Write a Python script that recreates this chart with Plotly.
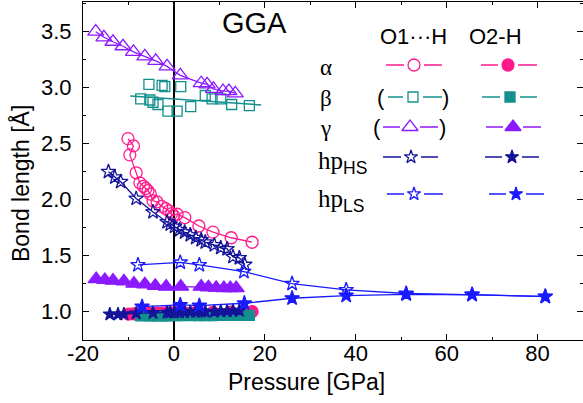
import plotly.graph_objects as go

# ---------------- data ----------------
# alpha (O1...H open, O2-H filled)
alpha_p = [-10.1, -8.9, -9.7, -8.3, -7.5, -6.7, -6.2, -5.7, -5.2, -4.6, -3.7, -2.7, -1.8, -1.1, -0.5, -0.1, 0.7, 2.4, 5.5, 8.6, 12.6, 17.2]
alpha_o1 = [2.545, 2.48, 2.40, 2.24, 2.15, 2.12, 2.10, 2.08, 2.05, 1.99, 1.98, 1.94, 1.92, 1.90, 1.875, 1.86, 1.87, 1.84, 1.765, 1.71, 1.66, 1.62]
alpha_f_p = [-10.0, -8.9, -8.3, -7.5, -6.7, -5.7, -4.6, -3.7, -2.7, -1.8, -1.1, -0.1, 0.7, 2.4, 4.5, 5.5, 8.6, 12.6, 17.2]
alpha_o2 = [0.978, 0.98, 0.98, 0.982, 0.983, 0.984, 0.985, 0.986, 0.987, 0.988, 0.988, 0.989, 0.99, 0.99, 0.99, 0.992, 0.994, 0.996, 1.0]

# beta
beta_p = [-7.3, -5.5, -5.3, -4.6, -3.5, -2.6, -2.0, -1.3, 0.7, 1.5, 3.7, 6.9, 8.4, 10.3, 12.7, 16.6]
beta_o1 = [2.90, 3.03, 2.89, 2.87, 2.85, 3.02, 3.01, 2.79, 2.79, 3.01, 2.83, 2.93, 2.90, 2.90, 2.85, 2.84]
beta_fit_p = [-9.6, 19.2]
beta_fit_v = [2.926, 2.846]
beta_f_p = [-7.3, -5.5, -4.6, -3.5, -2.0, -1.3, 0.7, 1.5, 3.7, 5.5, 6.9, 8.4, 10.3, 12.7, 14.5, 16.6]
beta_o2 = [0.962, 0.962, 0.962, 0.963, 0.963, 0.963, 0.964, 0.964, 0.964, 0.965, 0.965, 0.965, 0.966, 0.966, 0.966, 0.966]

# gamma
gamma_p = [-17.2, -15.4, -13.4, -11.2, -8.9, -6.4, -4.0, -1.5, 1.4, 6.0, 7.3, 8.7, 10.8, 12.1, 13.5]
gamma_o1 = [3.50, 3.45, 3.41, 3.37, 3.32, 3.28, 3.24, 3.19, 3.11, 3.04, 3.03, 2.99, 2.97, 2.97, 2.95]
gamma_f_p = [-17.1, -15.2, -13.4, -11.0, -8.8, -6.4, -4.1, -1.7, 1.5, 6.0, 7.6, 9.3, 11.0, 12.4, 13.7]
gamma_o2 = [1.29, 1.283, 1.277, 1.27, 1.25, 1.245, 1.23, 1.223, 1.223, 1.223, 1.218, 1.214, 1.21, 1.21, 1.21]

# hp_HS
hs_p = [-14.4, -13.0, -11.7, -8.3, -4.6, -1.5, -0.8, 0.15, 1.25, 2.35, 3.6, 4.8, 6.0, 6.9, 8.9, 10.3, 11.7, 13.0, 14.4, 15.6]
hs_o1 = [2.25, 2.20, 2.16, 2.01, 1.89, 1.80, 1.78, 1.76, 1.73, 1.71, 1.685, 1.66, 1.64, 1.62, 1.595, 1.57, 1.56, 1.49, 1.48, 1.42]
hs_f_p = [-14.1, -12.3, -11.0, -8.3, -4.6, -1.5, -0.8, 0.15, 1.25, 2.35, 3.6, 4.8, 6.0, 6.9, 8.9, 10.3, 11.7, 13.0, 14.4]
hs_o2 = [0.977, 0.977, 0.978, 0.985, 0.99, 0.993, 0.994, 0.995, 0.996, 0.997, 0.998, 1.0, 1.0, 1.0, 1.002, 1.004, 1.005, 1.008, 1.01]

# hp_LS
ls_p = [-7.9, 1.4, 5.6, 15.4, 26.0, 37.9, 51.1, 65.6, 81.7]
ls_o1 = [1.417, 1.44, 1.417, 1.357, 1.25, 1.194, 1.162, 1.152, 1.136]
ls_f_p = [-7.0, 1.4, 5.6, 15.5, 26.0, 37.9, 51.1, 65.6, 81.7]
ls_o2 = [1.045, 1.06, 1.054, 1.075, 1.12, 1.143, 1.155, 1.152, 1.134]

x_ticks = [-20, 0, 20, 40, 60, 80]
y_ticks = [1.0, 1.5, 2.0, 2.5, 3.0, 3.5]

# ---------------- styles ----------------
C_A = "#ff1a8c"
C_B = "#13908c"
C_G = "#8c1aff"
C_HS = "#14149a"
C_LS = "#1a1aff"
SANS = "Liberation Sans, Arial, sans-serif"
SERIF = "Liberation Serif, Times New Roman, serif"

fig = go.Figure()


def add(x, y, color, symbol, size, mode="lines+markers", lw=1.3, dash="solid"):
    fig.add_trace(go.Scatter(
        x=x, y=y, mode=mode, showlegend=False,
        line=dict(color=color, width=lw, dash=dash),
        marker=dict(symbol=symbol, size=size, color=color,
                    line=dict(color=color, width=1.3))))


# open (O1...H)
add(alpha_p, alpha_o1, C_A, "circle-open", 12)
add(beta_p, beta_o1, C_B, "square-open", 10, mode="markers")
add(beta_fit_p, beta_fit_v, C_B, "square-open", 10, mode="lines", lw=1.5)
add(gamma_p, gamma_o1, C_G, "triangle-up-open", 14)
add(hs_p, hs_o1, C_HS, "star-open", 11)
add(ls_p, ls_o1, C_LS, "star-open", 11)
# filled (O2-H)
add(alpha_f_p, alpha_o2, C_A, "circle", 12)
add(beta_f_p, beta_o2, C_B, "square", 10)
add(gamma_f_p, gamma_o2, C_G, "triangle-up", 14)
add(hs_f_p, hs_o2, C_HS, "star", 10)
add(ls_f_p, ls_o2, C_LS, "star", 11)

# ---------------- legend table (pixel-like overlay axes) ----------------
leg_rows = [
    # y, color, open sym, filled sym, size, O1 x(line0, mark, line1), O2 x
    (65, C_A, "circle-open", "circle", 12, (386, 414, 442), (481, 508, 537)),
    (97, C_B, "square-open", "square", 10, (388, 413, 442), (482, 510, 537)),
    (127, C_G, "triangle-up-open", "triangle-up", 14, (383, 410, 438), (486, 513, 541)),
    (157, C_HS, "star-open", "star", 10, (383, 411, 438), (485, 512, 539)),
    (194, C_LS, "star-open", "star", 10, (387, 414, 443), (489, 516, 544)),
]
for (yy, col, so, sf, sz, c1, c2) in leg_rows:
    for (xs, sym) in ((c1, so), (c2, sf)):
        g = 10
        fig.add_trace(go.Scatter(
            x=[xs[0], xs[1] - g, None, xs[1] + g, xs[2]], y=[yy, yy, None, yy, yy],
            mode="lines", line=dict(color=col, width=1.5), showlegend=False,
            xaxis="x2", yaxis="y2"))
        fig.add_trace(go.Scatter(
            x=[xs[1]], y=[yy], mode="markers", showlegend=False,
            marker=dict(symbol=sym, size=sz, color=col, line=dict(color=col, width=1.3)),
            xaxis="x2", yaxis="y2"))

ann = []


def txt(x, y, s, size, fam=SANS, xanchor="center", yanchor="middle"):
    ann.append(dict(x=x, y=y, xref="x2", yref="y2", text=s, showarrow=False,
                    font=dict(size=size, family=fam, color="black"),
                    xanchor=xanchor, yanchor=yanchor))


txt(254, 23, "GGA", 29)
txt(413, 36, "O1···H", 22)
txt(495, 36, "O2-H", 22)
txt(318, 67, "α", 23, SERIF, xanchor="left")
txt(318, 98, "β", 23, SERIF, xanchor="left")
txt(318, 128, "γ", 23, SERIF, xanchor="left")
txt(316, 162, "hp<span style='font-family:Liberation Sans'><sub>HS</sub></span>", 25, SERIF, xanchor="left")
txt(316, 200, "hp<span style='font-family:Liberation Sans'><sub>LS</sub></span>", 25, SERIF, xanchor="left")
txt(381, 97, "(", 22, SANS)
txt(445, 97, ")", 22, SANS)
txt(377, 127, "(", 22, SANS)
txt(442, 127, ")", 22, SANS)

# axis titles
ann.append(dict(x=0.447, y=-0.123, xref="paper", yref="paper", text="Pressure [GPa]", showarrow=False,
                font=dict(size=23, family=SANS, color="black"), xanchor="center", yanchor="middle"))
ann.append(dict(x=-0.126, y=0.4615, xref="paper", yref="paper", text="Bond length [Å]",
                showarrow=False, textangle=-90,
                font=dict(size=23, family=SANS, color="black"), xanchor="center", yanchor="middle"))

axis_common = dict(showline=True, linecolor="black", linewidth=1.2, mirror="ticks",
                   ticks="inside", ticklen=6, tickwidth=1.2, tickcolor="black",
                   showgrid=False, tickfont=dict(size=22, family=SANS, color="black"))

fig.update_layout(
    width=583, height=403,
    margin=dict(l=83, r=0, t=2, b=63),
    plot_bgcolor="white", paper_bgcolor="white",
    showlegend=False,
    xaxis=dict(range=[-20, 90], tickvals=x_ticks, ticktext=[str(v) for v in x_ticks],
               zeroline=True, zerolinecolor="black", zerolinewidth=1.5, ticklabelstandoff=-7,
               minor=dict(ticks="inside", ticklen=3, dtick=10, tickcolor="black", tickwidth=1),
               **axis_common),
    yaxis=dict(range=[0.747, 3.765], tickvals=y_ticks, ticktext=["%.1f" % v for v in y_ticks],
               zeroline=False, ticklabelstandoff=6,
               minor=dict(ticks="inside", ticklen=3, dtick=0.25, tick0=0, tickcolor="black", tickwidth=1),
               **axis_common),
    xaxis2=dict(range=[83, 583], overlaying="x", visible=False, fixedrange=True),
    yaxis2=dict(range=[340, 2], overlaying="y", visible=False, fixedrange=True),
    annotations=ann,
)

fig.write_html("out.html")
